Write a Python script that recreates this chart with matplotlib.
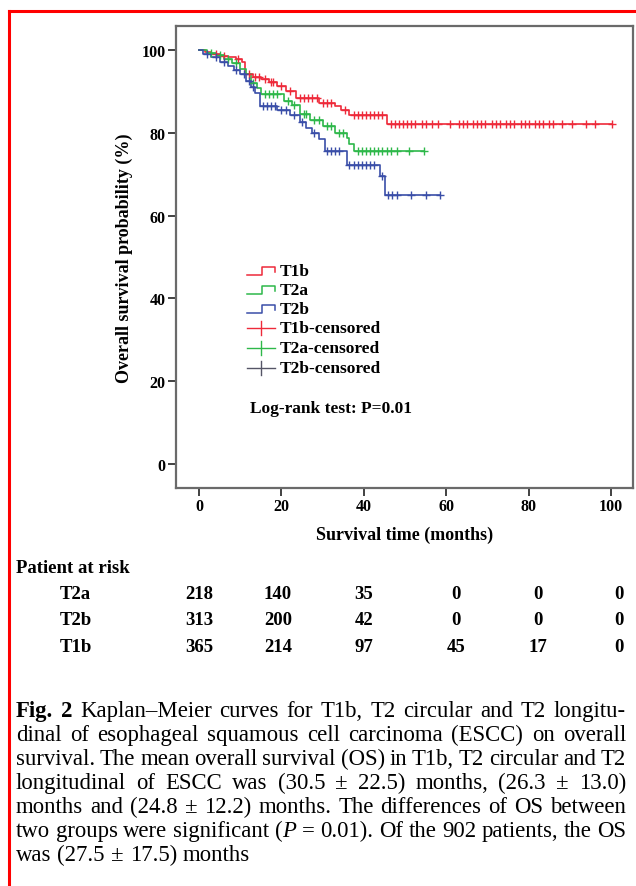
import matplotlib
matplotlib.use("Agg")
import matplotlib.pyplot as plt
import numpy as np
from matplotlib.lines import Line2D

plt.rcParams['font.family'] = ['Liberation Serif', 'DejaVu Serif']

# Datos (meses, supervivencia %)
groups = ["T1b", "T2a", "T2b"]
colors = ["#ee2a3a", "#2eb84a", "#3a4ea8"]
cens_colors = ["#ee2a3a", "#2eb84a", "#555566"]

t1b_times = [1.5, 3, 5, 7, 9, 10.5, 11.2, 13, 15, 17, 19, 21, 23.5, 29, 33, 34.5, 36.5, 45.5]
t1b_surv = [99.5, 99.0, 98.6, 98.2, 97.8, 97.2, 94.2, 93.6, 93.0, 92.3, 91.4, 90.2, 88.4, 87.3, 86.5, 85.6, 84.4, 82.1]
t1b_cens = [4, 6, 9.5, 12, 13.5, 14.5, 16, 17.5, 18, 20, 22, 24.5, 25.5, 26.5, 27.5, 28.5, 30, 31, 32,
            35.5, 37.5, 38.5, 39.5, 40.5, 41.5, 42.5, 43.5, 44.5, 46.5, 47.5, 48.5, 49.5, 50.5, 51.5,
            52.5, 54, 55, 56.5, 58, 61, 63, 64, 65, 66.5, 67.5, 68.5, 69.5, 71, 72, 73, 74.5,
            75.5, 76.5, 78, 79, 80, 81.5, 82.5, 83.5, 85, 86, 88, 90.5, 94, 96, 100.2]

t2a_times = [2, 4, 6, 8, 10, 11.5, 12.5, 14, 15, 20.5, 22.5, 24.5, 27, 30, 33, 35.8, 36.5, 37.5]
t2a_surv = [99.3, 98.7, 97.8, 96.8, 95.5, 94.2, 92.0, 90.8, 89.3, 87.7, 86.6, 84.5, 83.0, 81.6, 80.0, 78.8, 77.2, 75.6]
t2a_cens = [3, 5, 7, 9, 13, 16, 17, 18, 19, 21.5, 23, 25.5, 26, 28, 29, 31, 32, 34, 35, 38.5, 39.5,
            40.5, 41.5, 42.5, 43.5, 44.5, 45.5, 46.5, 48, 51, 54.5]

t2b_times = [1, 3, 5, 7, 8.5, 10, 11.5, 12.5, 13.5, 14.8, 19, 22, 24.5, 26, 27.5, 29, 30.5, 35.8, 44, 45]
t2b_surv = [99.0, 98.2, 97.2, 96.2, 95.2, 94.2, 92.5, 91.0, 89.5, 86.5, 85.6, 84.4, 82.5, 81.2, 80.0, 78.5, 75.6, 72.3, 69.5, 64.9]
t2b_cens = [2, 4, 6, 9, 11, 12, 13, 15.5, 16.5, 17.5, 18.5, 20, 21, 23, 25, 28, 31, 32, 33, 34, 36.5,
            37.5, 38.5, 39.5, 40.5, 41.5, 42.5, 44.5, 45.8, 46.8, 48, 51.5, 55, 58.5]

x_ticks = [0, 20, 40, 60, 80, 100]
y_ticks = [0, 20, 40, 60, 80, 100]

# Tabla de pacientes en riesgo
risk_groups = ["T2a", "T2b", "T1b"]
risk_t2a = [218, 140, 35, 0, 0, 0]
risk_t2b = [313, 200, 42, 0, 0, 0]
risk_t1b = [365, 214, 97, 45, 17, 0]

caption_lines = [
    "Fig. 2  Kaplan–Meier curves for T1b, T2 circular and T2 longitu-",
    "dinal of esophageal squamous cell carcinoma (ESCC) on overall",
    "survival. The mean overall survival (OS) in T1b, T2 circular and T2",
    "longitudinal of ESCC was (30.5 ± 22.5) months, (26.3 ± 13.0)",
    "months and (24.8 ± 12.2) months. The differences of OS between",
    "two groups were significant (P = 0.01). Of the 902 patients, the OS",
    "was (27.5 ± 17.5) months",
]

W, H = 636, 887


def fx(px):
    return px / W


def fy(py):
    return 1 - py / H


fig = plt.figure(figsize=(W / 100, H / 100), dpi=100)
fig.patch.set_facecolor("white")

# Marco rojo
fig.add_artist(Line2D([fx(9), fx(9)], [0, fy(12)], color="red", lw=2.2))
fig.add_artist(Line2D([fx(9), 1], [fy(12), fy(12)], color="red", lw=2.2))

ax = fig.add_axes([fx(176), fy(489), (633 - 176) / W, (489 - 27) / H])
ax.set_xlim(-5.6, 105.3)
ax.set_ylim(-5.8, 105.8)

all_times = [t1b_times, t2a_times, t2b_times]
all_surv = [t1b_surv, t2a_surv, t2b_surv]
all_cens = [t1b_cens, t2a_cens, t2b_cens]

for i in range(3):
    tt = np.array([0] + all_times[i] + [max(all_cens[i])])
    ss = np.array([100] + all_surv[i] + [all_surv[i][-1]])
    ax.step(tt, ss, where="post", color=colors[i], lw=1.2, zorder=3)
    # valor de supervivencia en cada tiempo censurado
    c = np.array(all_cens[i])
    idx = np.searchsorted(tt, c, side="right") - 1
    ax.plot(c, ss[idx], ls="none", marker="+", ms=6, mew=1.0, color=colors[i], zorder=4)

for sp in ax.spines.values():
    sp.set_color("#6a6a6a")
    sp.set_linewidth(1.6)
ax.set_xticks(x_ticks)
ax.set_yticks(y_ticks)
ax.tick_params(direction="out", length=5.5, width=1.3, color="#333333", labelsize=11.5, pad=2)
for lab in ax.get_xticklabels() + ax.get_yticklabels():
    lab.set_fontweight("bold")
ax.set_xlabel("Survival time (months)", fontsize=13, fontweight="bold", labelpad=8)
ax.set_ylabel("Overall survival probability (%)", fontsize=13, fontweight="bold", labelpad=6)

# Leyenda dibujada a mano
legend_labels = groups + [g + "-censored" for g in groups]
row_y = [272, 291, 310, 329, 349, 369]
for k, lab in enumerate(legend_labels):
    y0 = row_y[k]
    if k < 3:
        col = colors[k]
        xs = [247, 262, 262, 275, 275]
        ys = [y0 + 4, y0 + 4, y0 - 4, y0 - 4, y0 + 1]
        fig.add_artist(Line2D([fx(v) for v in xs], [fy(v) for v in ys], color=col, lw=1.1))
    else:
        col = cens_colors[k - 3]
        fig.add_artist(Line2D([fx(247), fx(275)], [fy(y0), fy(y0)], color=col, lw=1.0))
        fig.add_artist(Line2D([fx(261), fx(261)], [fy(y0 - 7), fy(y0 + 7)], color=col, lw=1.0))
    fig.text(fx(280), fy(y0), lab, fontsize=12.5, fontweight="bold", va="center", ha="left")

fig.text(fx(250), fy(409), "Log-rank test: P=0.01", fontsize=12.5, fontweight="bold", va="center", ha="left")

# Tabla de riesgo
fig.text(fx(16), fy(569), "Patient at risk", fontsize=13.5, fontweight="bold", va="center", ha="left")
col_x = [199, 278, 364, 456, 538, 619]
risk_rows = [risk_t2a, risk_t2b, risk_t1b]
risk_y = [595, 621, 648]
for r in range(3):
    fig.text(fx(60), fy(risk_y[r]), risk_groups[r], fontsize=13.5, fontweight="bold", va="center", ha="left")
    for c in range(6):
        fig.text(fx(col_x[c]), fy(risk_y[r]), str(risk_rows[r][c]), fontsize=13.5, fontweight="bold",
                 va="center", ha="center")

# Pie de figura justificado
fig.canvas.draw()
rend = fig.canvas.get_renderer()
left_px, right_px = 16, 626
line_y = [717, 741, 765, 789, 813, 837, 861]
cap_fs = 16.4
for li, line in enumerate(caption_lines):
    words = line.split()
    pieces = []
    for wi, w in enumerate(words):
        segs = []
        if li == 0 and wi < 2:
            segs.append((w, "bold", "normal"))
        elif w == "(P":
            segs.append(("(", "normal", "normal"))
            segs.append(("P", "normal", "italic"))
        else:
            segs.append((w, "normal", "normal"))
        objs = []
        wtot = 0
        for s, fw, st in segs:
            t = fig.text(0, fy(line_y[li]), s, fontsize=cap_fs, fontweight=fw, fontstyle=st,
                         va="baseline", ha="left")
            wd = t.get_window_extent(rend).width
            objs.append((t, wd))
            wtot += wd
        pieces.append((objs, wtot))
    total = sum(p[1] for p in pieces)
    if li < len(caption_lines) - 1:
        gap = (right_px - left_px - total) / (len(pieces) - 1)
    else:
        gap = 6.0
    x = left_px
    for objs, wtot in pieces:
        xx = x
        for t, wd in objs:
            t.set_x(fx(xx))
            xx += wd
        x += wtot + gap

fig.savefig("out.png", dpi=100, facecolor="white")
